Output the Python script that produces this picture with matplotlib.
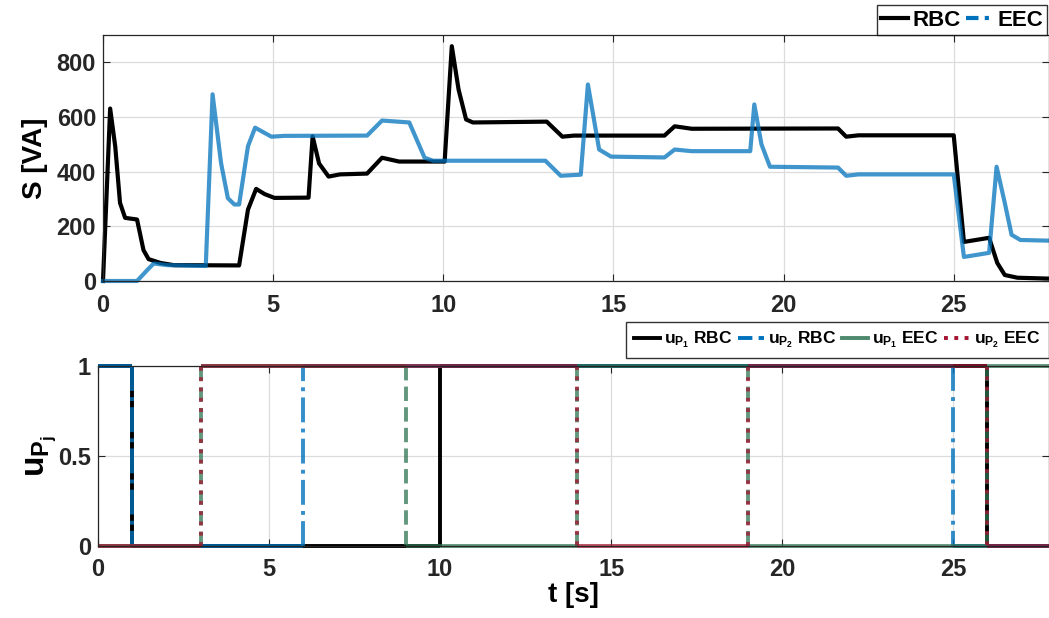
import matplotlib
matplotlib.use("Agg")
import matplotlib.pyplot as plt
from matplotlib.lines import Line2D

plt.rcParams['font.family'] = ['Liberation Sans', 'DejaVu Sans']
plt.rcParams['font.weight'] = 'bold'
plt.rcParams['mathtext.fontset'] = 'custom'
plt.rcParams['mathtext.bf'] = 'Liberation Sans:bold'
plt.rcParams['mathtext.rm'] = 'Liberation Sans:bold'
plt.rcParams['mathtext.it'] = 'Liberation Sans:bold'

# Potencia aparente S [VA] - RBC
t_rbc = [0, 0.21, 0.36, 0.5, 0.65, 1.0, 1.19, 1.34, 1.69, 2.08, 4.0, 4.26, 4.5, 4.75, 5.04,
         6.04, 6.16, 6.35, 6.63, 6.96, 7.76, 8.2, 8.7, 10.04, 10.25, 10.45, 10.67, 10.87,
         13.04, 13.5, 13.84, 16.5, 16.8, 17.3, 21.6, 21.84, 22.2, 25.0, 25.3, 26.04,
         26.28, 26.5, 26.87, 28.0]
s_rbc = [0, 631, 492, 286, 231, 225, 113, 80, 66, 58, 57, 261, 337, 318, 304,
         305, 529, 430, 382, 390, 393, 451, 437, 437, 859, 700, 591, 580,
         583, 528, 532, 532, 566, 557, 558, 528, 533, 533, 143, 158,
         66, 22, 12, 8]

# Potencia aparente S [VA] - EEC
t_eec = [0, 1.0, 1.3, 1.49, 1.9, 3.02, 3.22, 3.47, 3.67, 3.86, 4.0, 4.26, 4.47, 4.95,
         5.33, 7.76, 8.2, 9.0, 9.45, 9.7, 13.0, 13.45, 14.04, 14.25, 14.58, 14.93,
         16.5, 16.8, 17.3, 19.02, 19.14, 19.35, 19.6, 21.6, 21.84, 22.2, 25.0, 25.3,
         26.04, 26.26, 26.5, 26.7, 26.96, 28.0]
s_eec = [0, 0, 40, 64, 58, 55, 683, 431, 303, 280, 280, 493, 561, 528,
         531, 532, 587, 580, 451, 440, 440, 385, 389, 719, 481, 455,
         452, 481, 475, 475, 646, 500, 418, 415, 385, 390, 390, 88,
         103, 418, 286, 169, 150, 147]

# Senales de control u_Pj (tiempos de conmutacion y valores)
t_up1_rbc = [0, 1, 1, 10, 10, 26, 26, 28]
up1_rbc = [1, 1, 0, 0, 1, 1, 0, 0]
t_up2_rbc = [0, 1, 1, 6, 6, 25, 25, 28]
up2_rbc = [1, 1, 0, 0, 1, 1, 0, 0]
t_up1_eec = [0, 3, 3, 9, 9, 14, 14, 19, 19, 26, 26, 28]
up1_eec = [0, 0, 1, 1, 0, 0, 1, 1, 0, 0, 1, 1]
t_up2_eec = [0, 3, 3, 14, 14, 19, 19, 26, 26, 28]
up2_eec = [0, 0, 1, 1, 0, 0, 1, 1, 0, 0]

c_blue = '#0072BD'
c_green = '#2E7452'
c_red = '#A2142F'


def plot_step(ax, t, u, color, ls, alpha, lw=2.8):
    # tramos horizontales se ven continuos (muchos puntos en la senal original),
    # las conmutaciones verticales con el estilo de linea
    for i in range(len(t) - 1):
        seg_ls = '-' if u[i] == u[i + 1] else ls
        ax.plot(t[i:i + 2], u[i:i + 2], color=color, linestyle=seg_ls,
                linewidth=lw, alpha=alpha, clip_on=False, solid_capstyle='butt')


fig = plt.figure(figsize=(10.49, 6.18), dpi=100)
ax1 = fig.add_axes([103/1049, 1-281/618, 1-103/1049, 246/618])
ax2 = fig.add_axes([98/1049, 1-546/618, 1-98/1049, 180/618])

ax1.plot(t_rbc, s_rbc, color='black', linewidth=3, clip_on=False)
ax1.plot(t_eec, s_eec, color=c_blue, linewidth=3, alpha=0.75, clip_on=False)
ax1.set_xlim(0, 27.8)
ax1.set_ylim(0, 900)
ax1.set_yticks([0, 200, 400, 600, 800])
ax1.set_xticks([0, 5, 10, 15, 20, 25])
ax1.set_ylabel("S [VA]", fontsize=20, fontweight='bold', labelpad=6)
leg_h1 = [Line2D([], [], color='black', linewidth=3),
          Line2D([], [], color=c_blue, linewidth=3, linestyle=(0, (3, 1.5, 1, 1.5)))]
leg1 = ax1.legend(leg_h1, ['RBC', 'EEC'], ncol=2, loc='lower left',
                  bbox_to_anchor=(0.818, 1.0), frameon=True, fancybox=False,
                  edgecolor='black', fontsize=16, handlelength=1.2, handletextpad=0.2,
                  columnspacing=0.25, borderpad=0.2, borderaxespad=0)
leg1.get_frame().set_linewidth(1.0)

plot_step(ax2, t_up1_rbc, up1_rbc, 'black', '-', 1.0)
plot_step(ax2, t_up2_rbc, up2_rbc, c_blue, '-.', 0.8)
plot_step(ax2, t_up1_eec, up1_eec, c_green, '--', 0.75)
plot_step(ax2, t_up2_eec, up2_eec, c_red, ':', 0.75)
ax2.set_xlim(0, 27.8)
ax2.set_ylim(0, 1)
ax2.set_yticks([0, 0.5, 1])
ax2.set_yticklabels(['0', '0.5', '1'])
ax2.set_xticks([0, 5, 10, 15, 20, 25])
ax2.set_xlabel("t [s]", fontsize=20, fontweight='bold', labelpad=0)
ax2.set_ylabel(r"$\mathbf{u_{P_j}}$", fontsize=24, labelpad=0)
leg_h2 = [Line2D([], [], color='black', linewidth=2.8),
          Line2D([], [], color=c_blue, linewidth=2.8, linestyle='--'),
          Line2D([], [], color=c_green, linewidth=2.8, alpha=0.85),
          Line2D([], [], color=c_red, linewidth=2.8, linestyle=':')]
leg2 = ax2.legend(leg_h2, [r"$\mathbf{u_{P_1}}$ RBC", r"$\mathbf{u_{P_2}}$ RBC",
                           r"$\mathbf{u_{P_1}}$ EEC", r"$\mathbf{u_{P_2}}$ EEC"],
                  ncol=4, loc='lower left', bbox_to_anchor=(0.555, 1.044),
                  frameon=True, fancybox=False, edgecolor='black', fontsize=12.5,
                  handlelength=1.5, handletextpad=0.25, columnspacing=0.3,
                  borderpad=0.45, borderaxespad=0)
leg2.get_frame().set_linewidth(1.0)

for ax in (ax1, ax2):
    ax.grid(True, color='#dcdcdc', linewidth=0.9)
    ax.set_axisbelow(True)
    ax.tick_params(direction='in', top=True, right=True, length=5, width=0.8,
                   labelsize=17, colors='#262626')
    ax.tick_params(axis='x', pad=9)
    ax.tick_params(axis='y', pad=5)
    for lbl in ax.get_xticklabels() + ax.get_yticklabels():
        lbl.set_fontweight('bold')
    for sp in ax.spines.values():
        sp.set_color('#262626')
        sp.set_linewidth(0.9)

fig.savefig("out.png", dpi=100)
